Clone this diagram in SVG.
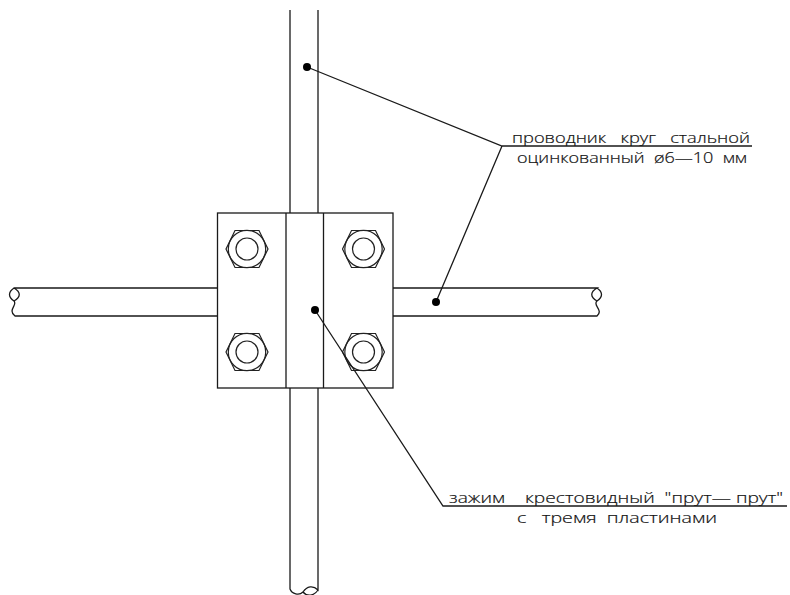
<svg xmlns="http://www.w3.org/2000/svg" width="790" height="595" viewBox="0 0 790 595">
<style>
.l{fill:none;stroke:#1a1a1a;stroke-width:1.3}
.b{fill:none;stroke:#222;stroke-width:1.2}
.d{fill:#000;stroke:none}
text{font-family:"Open Sans","Liberation Sans",sans-serif;font-weight:300;font-size:15px;fill:#111;stroke:#111;stroke-width:.2;white-space:pre}
</style>
<defs>
<g id="bolt">
<path class="b" d="M-21 0L-12 -18.500H12L21 0L12 18.500H-12Z"/>
<circle class="b" r="18.700"/>
<circle class="b" r="11"/>
</g>
</defs>
<rect width="790" height="595" fill="#fff"/>
<g id="rod-vertical">
<path class="l" d="M290 10V213M318 10V213M290 388V589C292 594 299 596 303 592C307 586 313 585 318 590V388M303 592C307 597 314 596 318 590"/>
</g>
<g id="rod-left">
<path class="l" d="M217.500 288H14C8 292 8 297 14 301C18 305 7 310 15 316H217.500M14 288C21 292 21 297 14 301"/>
</g>
<g id="rod-right">
<path class="l" d="M393 288H597C590 292 590 297 597 301C592 305 604 310 597 316H393M597 288C603 292 603 297 597 301"/>
</g>
<g id="clamp">
<rect class="l" x="217.500" y="213" width="175.500" height="175"/>
<path class="l" d="M286 213V388M323.500 213V388"/>
</g>
<g id="bolt-tl"><use href="#bolt" x="247" y="249"/></g>
<g id="bolt-tr"><use href="#bolt" x="363.500" y="249"/></g>
<g id="bolt-bl"><use href="#bolt" x="247" y="352"/></g>
<g id="bolt-br"><use href="#bolt" x="363.500" y="352"/></g>
<g id="connectors">
<path class="l" d="M307 67L502 146H752M502 146L436 302"/>
<path class="l" d="M315 310L443 506H787"/>
<circle class="d" cx="307" cy="67" r="4"/>
<circle class="d" cx="436" cy="302" r="4"/>
<circle class="d" cx="315" cy="310" r="4"/>
</g>
<g id="label-conductor">
<text x="512" y="143" textLength="238" lengthAdjust="spacingAndGlyphs">проводник   круг   стальной</text>
<text x="517" y="163" textLength="230" lengthAdjust="spacingAndGlyphs">оцинкованный  ø6—10  мм</text>
</g>
<g id="label-clamp">
<text x="449" y="503" textLength="334" lengthAdjust="spacingAndGlyphs">зажим    крестовидный  "прут— прут"</text>
<text x="517" y="523" textLength="200" lengthAdjust="spacingAndGlyphs">с   тремя  пластинами</text>
</g>
</svg>
